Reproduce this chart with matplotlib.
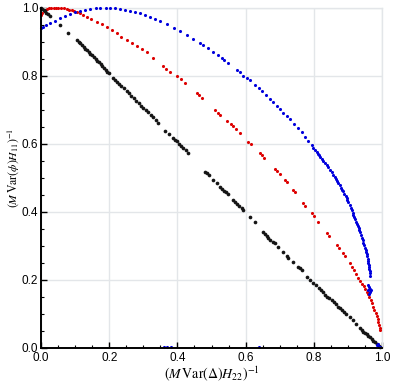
import numpy as np
import matplotlib
matplotlib.use("Agg")
import matplotlib.pyplot as plt
from matplotlib.ticker import MultipleLocator

plt.rcParams['font.family'] = ['Liberation Sans', 'DejaVu Sans']
plt.rcParams['mathtext.fontset'] = 'stix'

# blue series
blue_x = [0.0, 0.007, 0.015, 0.026, 0.04, 0.056, 0.07, 0.085, 0.1, 0.114, 0.13, 0.144,
          0.16, 0.173, 0.19, 0.202, 0.218, 0.232, 0.247, 0.261, 0.275, 0.29, 0.305, 0.32,
          0.335, 0.35, 0.369, 0.39, 0.408, 0.427, 0.447, 0.466, 0.476, 0.491, 0.505, 0.52,
          0.53, 0.537, 0.549, 0.574, 0.584, 0.593, 0.604, 0.613, 0.628, 0.64, 0.647, 0.66,
          0.672, 0.68, 0.691, 0.7, 0.711, 0.72, 0.731, 0.743, 0.755, 0.765, 0.774, 0.784,
          0.794, 0.799, 0.804, 0.808, 0.811, 0.815, 0.818, 0.823, 0.828, 0.833, 0.838, 0.843,
          0.848, 0.852, 0.857, 0.861, 0.864, 0.868, 0.872, 0.876, 0.88, 0.884, 0.887, 0.89,
          0.893, 0.896, 0.898, 0.901, 0.905, 0.908, 0.911, 0.914, 0.916, 0.919, 0.922, 0.925,
          0.927, 0.93, 0.932, 0.934, 0.936, 0.939, 0.941, 0.943, 0.945, 0.948, 0.95, 0.952,
          0.953, 0.955, 0.956, 0.958, 0.959, 0.96, 0.961, 0.962, 0.963, 0.964, 0.964, 0.965,
          0.958, 0.962, 0.966, 0.96, 0.964, 0.968, 0.962,
          0.36, 0.37, 0.38, 0.64, 0.985, 0.99, 0.995, 0.988]
blue_y = [0.94, 0.945, 0.95, 0.955, 0.962, 0.97, 0.976, 0.982, 0.987, 0.991, 0.994, 0.997,
          0.999, 1.0, 1.0, 1.0, 0.999, 0.997, 0.994, 0.991, 0.988, 0.984, 0.98, 0.975,
          0.968, 0.962, 0.953, 0.941, 0.931, 0.921, 0.91, 0.898, 0.891, 0.881, 0.871, 0.862,
          0.852, 0.847, 0.837, 0.819, 0.812, 0.801, 0.795, 0.788, 0.774, 0.764, 0.757, 0.745,
          0.732, 0.724, 0.712, 0.703, 0.692, 0.683, 0.673, 0.66, 0.646, 0.634, 0.622, 0.61,
          0.597, 0.589, 0.581, 0.576, 0.572, 0.568, 0.563, 0.557, 0.551, 0.545, 0.539, 0.531,
          0.524, 0.517, 0.51, 0.504, 0.498, 0.491, 0.485, 0.478, 0.472, 0.466, 0.461, 0.454,
          0.448, 0.442, 0.435, 0.428, 0.42, 0.412, 0.405, 0.398, 0.392, 0.385, 0.378, 0.371,
          0.365, 0.358, 0.352, 0.346, 0.34, 0.332, 0.325, 0.318, 0.31, 0.302, 0.295, 0.289,
          0.283, 0.276, 0.27, 0.263, 0.257, 0.251, 0.245, 0.238, 0.232, 0.226, 0.22, 0.213,
          0.185, 0.18, 0.175, 0.17, 0.165, 0.172, 0.158,
          0.002, 0.002, 0.002, 0.003, 0.008, 0.004, 0.002, 0.012]

# red series
red_x = [0.0, 0.004, 0.008, 0.013, 0.018, 0.024, 0.03, 0.037, 0.044, 0.051, 0.058, 0.066,
         0.075, 0.083, 0.09, 0.098, 0.105, 0.115, 0.124, 0.134, 0.148, 0.163, 0.178, 0.193,
         0.207, 0.222, 0.236, 0.251, 0.266, 0.281, 0.295, 0.31, 0.329, 0.359, 0.368, 0.378,
         0.398, 0.41, 0.422, 0.457, 0.464, 0.471, 0.51, 0.518, 0.525, 0.545, 0.556, 0.564,
         0.573, 0.584, 0.608, 0.615, 0.642, 0.647, 0.655, 0.686, 0.691, 0.7, 0.716, 0.72,
         0.74, 0.745, 0.769, 0.775, 0.794, 0.8, 0.813, 0.838, 0.845, 0.867, 0.873, 0.886,
         0.891, 0.905, 0.911, 0.917, 0.924, 0.931, 0.936, 0.941, 0.946, 0.951, 0.955, 0.959,
         0.963, 0.967, 0.971, 0.975, 0.978, 0.981, 0.984, 0.987, 0.989, 0.991, 0.993, 0.994]
red_y = [0.98, 0.986, 0.99, 0.994, 0.997, 0.999, 1.0, 1.001, 1.001, 1.0, 1.0, 0.999,
         0.997, 0.995, 0.993, 0.991, 0.988, 0.984, 0.979, 0.975, 0.968, 0.96, 0.953, 0.945,
         0.936, 0.926, 0.916, 0.905, 0.898, 0.889, 0.88, 0.871, 0.854, 0.829, 0.822, 0.813,
         0.8, 0.79, 0.78, 0.751, 0.743, 0.734, 0.7, 0.692, 0.685, 0.668, 0.66, 0.652,
         0.643, 0.633, 0.607, 0.6, 0.573, 0.568, 0.56, 0.527, 0.522, 0.512, 0.494, 0.489,
         0.465, 0.46, 0.426, 0.418, 0.396, 0.388, 0.372, 0.337, 0.328, 0.303, 0.293, 0.278,
         0.27, 0.25, 0.239, 0.23, 0.217, 0.205, 0.197, 0.189, 0.181, 0.173, 0.166, 0.158,
         0.15, 0.141, 0.131, 0.121, 0.112, 0.103, 0.094, 0.084, 0.076, 0.068, 0.06, 0.053]

# black series
black_x = [0.0, 0.004, 0.008, 0.012, 0.016, 0.02, 0.026, 0.056, 0.08,
           0.105, 0.11, 0.115, 0.12, 0.125, 0.13, 0.135, 0.14, 0.145, 0.15, 0.155, 0.16,
           0.165, 0.17, 0.175, 0.18, 0.185, 0.19, 0.195, 0.2,
           0.212, 0.218, 0.224, 0.23, 0.236, 0.243, 0.251, 0.258, 0.265, 0.272, 0.28, 0.286,
           0.293, 0.3, 0.308, 0.315, 0.322, 0.329, 0.336, 0.344, 0.364, 0.375,
           0.386, 0.392, 0.398, 0.404, 0.41, 0.417, 0.424, 0.432,
           0.481, 0.486, 0.492, 0.505, 0.515, 0.525, 0.531, 0.537, 0.543, 0.549,
           0.564, 0.57, 0.576, 0.582, 0.588, 0.593, 0.613, 0.628, 0.652, 0.658, 0.663, 0.667,
           0.673, 0.679, 0.685, 0.696, 0.71, 0.72, 0.725, 0.74, 0.755, 0.76, 0.765, 0.78,
           0.79, 0.798, 0.805, 0.815, 0.822, 0.828, 0.834, 0.84, 0.846, 0.852, 0.858, 0.864,
           0.87, 0.876, 0.882, 0.888, 0.894, 0.906, 0.915, 0.925, 0.935, 0.94, 0.945, 0.95,
           0.955, 0.96, 0.965, 0.97, 0.975, 0.98, 0.985, 0.99, 0.994]
black_y = [1.0, 0.997, 0.993, 0.99, 0.986, 0.983, 0.977, 0.95, 0.926,
           0.906, 0.9, 0.896, 0.891, 0.886, 0.88, 0.876, 0.87, 0.866, 0.861, 0.856, 0.85,
           0.845, 0.84, 0.835, 0.829, 0.823, 0.818, 0.813, 0.808,
           0.793, 0.789, 0.783, 0.777, 0.771, 0.764, 0.755, 0.749, 0.742, 0.734, 0.727, 0.72,
           0.713, 0.706, 0.699, 0.693, 0.686, 0.68, 0.672, 0.663, 0.637, 0.628,
           0.619, 0.613, 0.608, 0.601, 0.595, 0.588, 0.581, 0.573,
           0.519, 0.514, 0.508, 0.494, 0.484, 0.474, 0.468, 0.463, 0.458, 0.452,
           0.435, 0.429, 0.423, 0.418, 0.412, 0.406, 0.385, 0.372, 0.342, 0.336, 0.33, 0.325,
           0.319, 0.313, 0.308, 0.298, 0.282, 0.27, 0.264, 0.253, 0.238, 0.234, 0.228, 0.21,
           0.199, 0.19, 0.184, 0.176, 0.17, 0.164, 0.157, 0.151, 0.146, 0.14, 0.134, 0.128,
           0.122, 0.117, 0.112, 0.106, 0.1, 0.092, 0.082, 0.07, 0.06, 0.054, 0.048, 0.044,
           0.04, 0.036, 0.031, 0.027, 0.022, 0.017, 0.012, 0.007, 0.003]

fig = plt.figure(figsize=(3.95, 3.86), dpi=100)
ax = fig.add_axes([41 / 395, 38 / 386, 341 / 395, 340 / 386])

ax.scatter(red_x, red_y, s=5, color='#dd0000', linewidths=0, clip_on=False, zorder=3)
ax.scatter(black_x, black_y, s=7, color='#151515', linewidths=0, clip_on=False, zorder=3)
ax.scatter(blue_x, blue_y, s=5, color='#0000dd', linewidths=0, clip_on=False, zorder=4)

ax.set_xlim(0, 1)
ax.set_ylim(0, 1)
ax.xaxis.set_major_locator(MultipleLocator(0.2))
ax.yaxis.set_major_locator(MultipleLocator(0.2))
ax.xaxis.set_minor_locator(MultipleLocator(0.05))
ax.yaxis.set_minor_locator(MultipleLocator(0.05))
ax.set_xticklabels([f'{v:.1f}' for v in ax.get_xticks()])
ax.set_yticklabels([f'{v:.1f}' for v in ax.get_yticks()])
ax.grid(True, which='major', color='#e3e6e9', lw=1.0, zorder=0)

for side in ['top', 'right']:
    ax.spines[side].set_color('#e3e6e9')
    ax.spines[side].set_linewidth(1.0)
for side in ['left', 'bottom']:
    ax.spines[side].set_linewidth(1.4)
    ax.spines[side].set_zorder(5)

ax.tick_params(which='major', direction='in', length=4, width=1.0, labelsize=8.5, pad=2)
ax.tick_params(axis='x', which='major', pad=3)
ax.tick_params(which='minor', direction='in', length=2.5, width=0.8)
ax.tick_params(top=False, right=False, which='both')

ax.set_xlabel(r'$(M\,\mathrm{Var}(\Delta)H_{22})^{-1}$', fontsize=10, labelpad=0)
ax.set_ylabel(r'$(M\,\mathrm{Var}(\phi)H_{11})^{-1}$', fontsize=8.5)
ax.yaxis.set_label_coords(-0.06, 0.53)

fig.savefig('out.png', dpi=100)
